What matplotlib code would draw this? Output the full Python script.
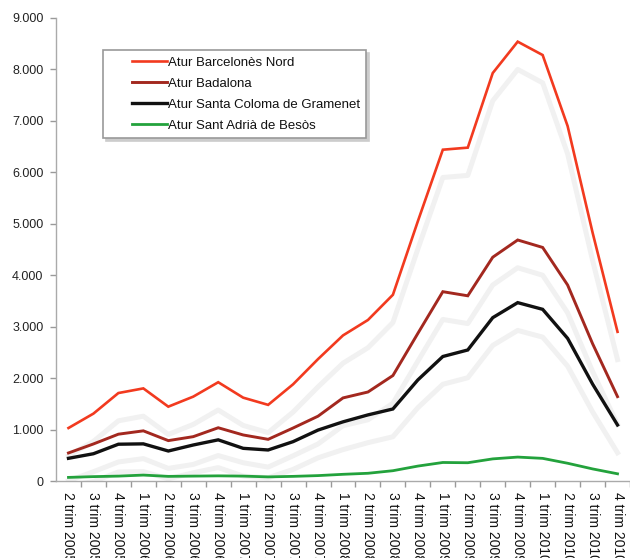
import matplotlib
matplotlib.use("Agg")
import matplotlib.pyplot as plt
from matplotlib.ticker import FuncFormatter, FixedLocator
from matplotlib.lines import Line2D
from matplotlib.legend_handler import HandlerLine2D
import matplotlib.patheffects as pe

labels = ['2 trim 2005', '3 trim 2005', '4 trim 2005', '1 trim 2006', '2 trim 2006',
          '3 trim 2006', '4 trim 2006', '1 trim 2007', '2 trim 2007', '3 trim 2007',
          '4 trim 2007', '1 trim 2008', '2 trim 2008', '3 trim 2008', '4 trim 2008',
          '1 trim 2009', '2 trim 2009', '3 trim 2009', '4 trim 2009', '1 trim 2010',
          '2 trim 2010', '3 trim 2010', '4 trim 2010']

barcelones_nord = [1030, 1310, 1710, 1800, 1445, 1640, 1920, 1620, 1480, 1880, 2370, 2830,
                   3130, 3620, 5050, 6440, 6480, 7930, 8540, 8280, 6900, 4830, 2900]
badalona = [545, 720, 910, 975, 785, 862, 1035, 895, 810, 1030, 1260, 1615,
            1730, 2050, 2870, 3680, 3600, 4350, 4685, 4540, 3810, 2670, 1640]
santa_coloma = [441, 530, 715, 722, 583, 700, 800, 635, 603, 765, 990, 1150,
                1285, 1400, 1965, 2420, 2547, 3175, 3467, 3337, 2773, 1885, 1089]
sant_adria = [70, 85, 95, 115, 90, 95, 100, 95, 80, 90, 105, 130,
              150, 200, 290, 360, 355, 430, 465, 440, 345, 235, 140]

series_names = ['Atur Barcelonès Nord', 'Atur Badalona',
                'Atur Santa Coloma de Gramenet', 'Atur Sant Adrià de Besòs']
series_values = [barcelones_nord, badalona, santa_coloma, sant_adria]
colors = ['#f23a1f', '#a3281f', '#111111', '#23a23c']
widths = [1.9, 2.1, 2.4, 2.0]

plt.rcParams['font.family'] = ['Liberation Sans', 'DejaVu Sans']

W, H = 630, 558
fig = plt.figure(figsize=(W / 100, H / 100), dpi=100)
left_px, bottom_px, top_px = 56, 481, 18
ax = fig.add_axes([left_px / W, (H - bottom_px) / H, (W - left_px) / W, (bottom_px - top_px) / H])

x = list(range(len(labels)))
spacing = 25.2
ax.set_xlim(-0.5, -0.5 + (W - left_px) / spacing)
ax.set_ylim(0, 9000)

# soft shadows
for vals in series_values:
    ax.plot(x, vals, color='none', lw=2, zorder=1,
            path_effects=[pe.SimpleLineShadow(offset=(0, -20), shadow_color='#f1f1f1',
                                              alpha=1.0, linewidth=3.6)])

lines = []
for name, vals, c, w in zip(series_names, series_values, colors, widths):
    ln, = ax.plot(x, vals, color=c, lw=w, zorder=3, label=name, solid_joinstyle='miter')
    lines.append(ln)

ax.yaxis.set_major_locator(FixedLocator(range(0, 9001, 1000)))
ax.yaxis.set_major_formatter(FuncFormatter(lambda v, p: f"{int(v):,}".replace(',', '.')))
ax.set_xticks(x)
ax.set_xticklabels(labels, rotation=270, fontsize=10, color='#111111', va='top', ha='center')
ax.set_xticks([i + 0.5 for i in x], minor=True)
ax.tick_params(axis='x', which='major', length=0, pad=8)
ax.tick_params(axis='x', which='minor', length=4, color='#999999', width=1, direction='out')
ax.tick_params(axis='y', length=4, color='#999999', width=1, labelsize=9, pad=5,
               labelcolor='#222222')

for s in ['top', 'right']:
    ax.spines[s].set_visible(False)
for s in ['left', 'bottom']:
    ax.spines[s].set_color('#aaaaaa')
    ax.spines[s].set_linewidth(1.0)


class OffsetHandler(HandlerLine2D):
    def create_artists(self, legend, orig_handle, xdescent, ydescent, width, height,
                       fontsize, trans):
        y = height / 2 - ydescent
        ln = Line2D([width * 0.39, width], [y, y], color=orig_handle.get_color(),
                    lw=orig_handle.get_linewidth(), transform=trans)
        return [ln]


axl = (103 - left_px) / (W - left_px)
ayl = (bottom_px - 50) / (bottom_px - top_px)
leg = ax.legend(handles=lines, loc='upper left', bbox_to_anchor=(axl, ayl),
                borderaxespad=0, fontsize=9.5, handlelength=4.35, handletextpad=0.05,
                labelspacing=0.66, borderpad=0.5, fancybox=False, frameon=True,
                handler_map={Line2D: OffsetHandler()},
                shadow={'color': '#cccccc', 'alpha': 1.0})
leg.get_frame().set_edgecolor('#999999')
leg.get_frame().set_linewidth(1.2)
for t in leg.get_texts():
    t.set_color('#111111')

fig.savefig('out.png', dpi=100)
